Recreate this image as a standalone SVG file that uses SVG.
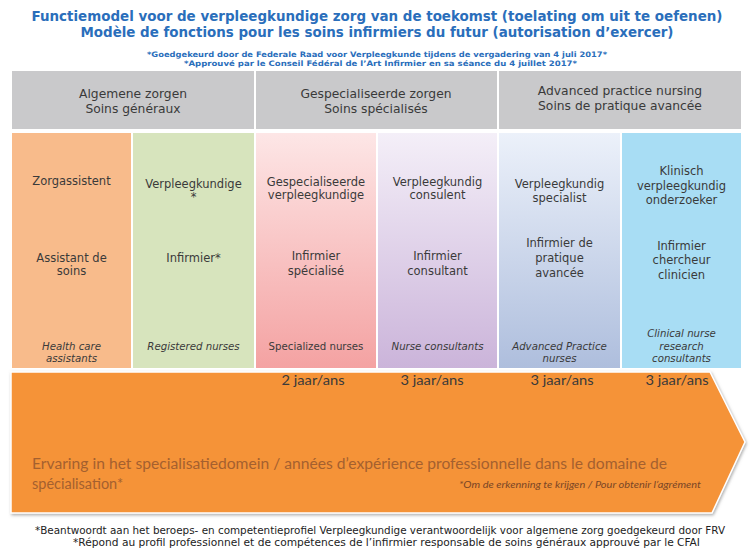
<svg xmlns="http://www.w3.org/2000/svg" width="750" height="555" viewBox="0 0 750 555">
<style>
.title{font-family:"DejaVu Sans Condensed","DejaVu Sans",sans-serif;font-weight:bold;font-size:14.5px;fill:#2A6EBB}
.sub{font-family:"DejaVu Sans Condensed","DejaVu Sans",sans-serif;font-weight:bold;font-size:7.5px;fill:#2A6EBB}
.hdr{font-family:"DejaVu Sans",sans-serif;font-size:12.3px;fill:#3a3a3a;text-anchor:middle}
.col{font-family:"DejaVu Sans",sans-serif;font-size:11.5px;fill:#3a3a3a;text-anchor:middle}
.en{font-family:"DejaVu Sans",sans-serif;font-size:10.2px;fill:#3a3a3a;text-anchor:middle;font-style:italic}
.yr{font-family:Lato,"Open Sans",sans-serif;font-size:13px;fill:#3a3a3a;text-anchor:middle}
.arr{font-family:Lato,"Open Sans",sans-serif;font-size:14.5px;fill:#A4602F}
.note{font-family:Lato,"Open Sans",sans-serif;font-size:9px;font-style:italic;fill:#7A4626}
.foot{font-family:"DejaVu Sans Condensed","DejaVu Sans",sans-serif;font-size:10px;fill:#222}
.hbox{fill:#C9C9CB}
</style>
<defs>
<linearGradient id="gPink" x1="0" y1="0" x2="0" y2="1"><stop offset="0" stop-color="#FDE6E6"/><stop offset="1" stop-color="#F4A2A2"/></linearGradient>
<linearGradient id="gPurple" x1="0" y1="0" x2="0" y2="1"><stop offset="0" stop-color="#F4EFF8"/><stop offset="1" stop-color="#CBB4DA"/></linearGradient>
<linearGradient id="gBlue" x1="0" y1="0" x2="0" y2="1"><stop offset="0" stop-color="#ECF1FA"/><stop offset="1" stop-color="#AEBEDD"/></linearGradient>
<filter id="sh" x="-5%" y="-5%" width="110%" height="115%"><feDropShadow dx="1" dy="1.5" stdDeviation="1.5" flood-color="#777" flood-opacity="0.6"/></filter>
</defs>
<rect width="750" height="555" fill="#fff"/>

<g id="title">
<text class="title" x="377" y="20.5" text-anchor="middle" textLength="691" lengthAdjust="spacingAndGlyphs">Functiemodel voor de verpleegkundige zorg van de  toekomst (toelating om uit te oefenen)</text>
<text class="title" x="377" y="36.5" text-anchor="middle" textLength="593" lengthAdjust="spacingAndGlyphs">Modèle de fonctions pour les soins infirmiers du futur (autorisation d’exercer)</text>
<text class="sub" x="377" y="57" text-anchor="middle" textLength="460" lengthAdjust="spacingAndGlyphs">*Goedgekeurd door de Federale Raad voor Verpleegkunde tijdens de vergadering van 4 juli 2017*</text>
<text class="sub" x="380.5" y="65.5" text-anchor="middle" textLength="393" lengthAdjust="spacingAndGlyphs">*Approuvé par le Conseil Fédéral de l’Art Infirmier en sa séance du 4 juillet 2017*</text>
</g>

<g id="hdr-general">
<rect class="hbox" x="12" y="71" width="242" height="58"/>
<text class="hdr" x="133" y="98">Algemene zorgen</text>
<text class="hdr" x="133" y="112.5">Soins généraux</text>
</g>
<g id="hdr-specialized">
<rect class="hbox" x="256" y="71" width="241" height="58"/>
<text class="hdr" x="376" y="98">Gespecialiseerde zorgen</text>
<text class="hdr" x="376" y="112.5">Soins spécialisés</text>
</g>
<g id="hdr-advanced">
<rect class="hbox" x="499" y="71" width="242" height="58"/>
<text class="hdr" x="620" y="95">Advanced practice nursing</text>
<text class="hdr" x="620" y="109.5">Soins de pratique avancée</text>
</g>

<g id="col-zorgassistent">
<rect x="12" y="133" width="119" height="235" fill="#F8BB8B"/>
<text class="col" x="71.5" y="185">Zorgassistent</text>
<text class="col" x="71.5" y="262">Assistant de</text>
<text class="col" x="71.5" y="275">soins</text>
<text class="en" x="71.5" y="350">Health care</text>
<text class="en" x="71.5" y="362">assistants</text>
</g>
<g id="col-verpleegkundige">
<rect x="133" y="133" width="121" height="235" fill="#D7E4BD"/>
<text class="col" x="193.5" y="188">Verpleegkundige</text>
<text class="col" x="193.5" y="201">*</text>
<text class="col" x="193.5" y="262">Infirmier*</text>
<text class="en" x="193.5" y="350">Registered nurses</text>
</g>
<g id="col-gespecialiseerde">
<rect x="256" y="133" width="120" height="235" fill="url(#gPink)"/>
<text class="col" x="316" y="186">Gespecialiseerde</text>
<text class="col" x="316" y="199">verpleegkundige</text>
<text class="col" x="316" y="260">Infirmier</text>
<text class="col" x="316" y="275">spécialisé</text>
<text class="en" x="316" y="350" style="font-style:normal">Specialized nurses</text>
</g>
<g id="col-consulent">
<rect x="378" y="133" width="119" height="235" fill="url(#gPurple)"/>
<text class="col" x="437.5" y="186">Verpleegkundig</text>
<text class="col" x="437.5" y="199">consulent</text>
<text class="col" x="437.5" y="260">Infirmier</text>
<text class="col" x="437.5" y="275">consultant</text>
<text class="en" x="437.5" y="350">Nurse consultants</text>
</g>
<g id="col-specialist">
<rect x="499" y="133" width="121" height="235" fill="url(#gBlue)"/>
<text class="col" x="559.5" y="188">Verpleegkundig</text>
<text class="col" x="559.5" y="202">specialist</text>
<text class="col" x="559.5" y="247">Infirmier de</text>
<text class="col" x="559.5" y="262">pratique</text>
<text class="col" x="559.5" y="277">avancée</text>
<text class="en" x="559.5" y="350">Advanced Practice</text>
<text class="en" x="559.5" y="362">nurses</text>
</g>
<g id="col-onderzoeker">
<rect x="622" y="133" width="119" height="235" fill="#A8DDF4"/>
<text class="col" x="681.5" y="175">Klinisch</text>
<text class="col" x="681.5" y="190">verpleegkundig</text>
<text class="col" x="681.5" y="204">onderzoeker</text>
<text class="col" x="681.5" y="250">Infirmier</text>
<text class="col" x="681.5" y="264">chercheur</text>
<text class="col" x="681.5" y="279">clinicien</text>
<text class="en" x="681.5" y="337">Clinical nurse</text>
<text class="en" x="681.5" y="350">research</text>
<text class="en" x="681.5" y="362">consultants</text>
</g>

<g id="arrow-experience">
<polygon points="11,372 710,372 745,442 712,513 11,513" fill="#F59339" stroke="#fff" stroke-width="1.5" filter="url(#sh)"/>
<text class="yr" x="313" y="385" textLength="63" lengthAdjust="spacingAndGlyphs">2 jaar/ans</text>
<text class="yr" x="432" y="385" textLength="63" lengthAdjust="spacingAndGlyphs">3 jaar/ans</text>
<text class="yr" x="562" y="385" textLength="63" lengthAdjust="spacingAndGlyphs">3 jaar/ans</text>
<text class="yr" x="677" y="385" textLength="63" lengthAdjust="spacingAndGlyphs">3 jaar/ans</text>
<text class="arr" x="32" y="469" textLength="635" lengthAdjust="spacingAndGlyphs">Ervaring  in het specialisatiedomein / années d’expérience professionnelle dans le domaine de</text>
<text class="arr" x="32" y="489">spécialisation*</text>
<text class="note" x="459" y="488" textLength="242" lengthAdjust="spacingAndGlyphs">*Om de erkenning te krijgen  / Pour obtenir l’agrément</text>
</g>

<g id="footnote">
<text class="foot" x="35" y="534" textLength="690" lengthAdjust="spacingAndGlyphs">*Beantwoordt aan het beroeps- en competentieprofiel Verpleegkundige verantwoordelijk voor algemene zorg goedgekeurd door FRV</text>
<text class="foot" x="73" y="546" textLength="627" lengthAdjust="spacingAndGlyphs">*Répond au profil professionnel et de compétences de l’infirmier responsable de soins généraux approuvé par le CFAI</text>
</g>
</svg>
